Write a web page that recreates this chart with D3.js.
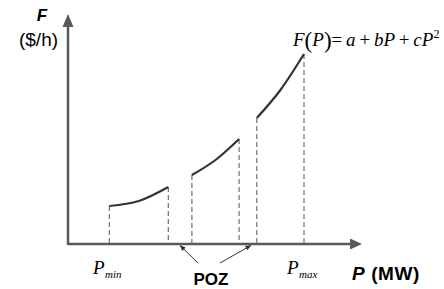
<!DOCTYPE html>
<html><head><meta charset="utf-8">
<script src="https://cdn.jsdelivr.net/npm/d3@7"></script>
<style>body{margin:0;background:#fff}svg{display:block}</style>
</head><body>
<script>
// Data: power output P (MW) and cost F ($/h) along each allowed operating segment
const segP1 = [14, 24, 34];
const segF1 = [19, 21.5, 28.5];
const segP2 = [42, 50, 58];
const segF2 = [34.5, 42, 52.5];
const segP3 = [64, 72, 80];
const segF3 = [63, 77, 95];
const pozArrowTargets = [38, 64]; // MW positions POZ arrows point to
const xAxisMax = 100;
const yAxisMax = 115;

const W = 444, H = 289;
const svg = d3.select("body").append("svg").attr("width", W).attr("height", H);

const x = d3.scaleLinear().domain([0, 100]).range([68, 363]);
const y = d3.scaleLinear().domain([0, 100]).range([244, 44]);

const defs = svg.append("defs");
defs.append("marker").attr("id","ah").attr("viewBox","0 0 10 10").attr("refX",9).attr("refY",5)
  .attr("markerWidth",6).attr("markerHeight",6).attr("orient","auto")
  .append("path").attr("d","M0,1 L10,5 L0,9 Z").attr("fill","#333");

const axisColor = "#595959";
// axes
svg.append("line").attr("x1", x(0)).attr("x2", x(xAxisMax) - 8).attr("y1", y(0)).attr("y2", y(0))
  .attr("stroke", axisColor).attr("stroke-width", 2.5);
svg.append("path").attr("d", `M${x(xAxisMax)-1},${y(0)} L${x(xAxisMax)-13},${y(0)-5.5} L${x(xAxisMax)-13},${y(0)+5.5} Z`).attr("fill", axisColor);
svg.append("line").attr("x1", x(0)).attr("x2", x(0)).attr("y1", y(0)+1).attr("y2", y(yAxisMax) + 8)
  .attr("stroke", axisColor).attr("stroke-width", 2.5);
svg.append("path").attr("d", `M${x(0)},${y(yAxisMax)} L${x(0)-5.5},${y(yAxisMax)+13} L${x(0)+5.5},${y(yAxisMax)+13} Z`).attr("fill", axisColor);

const segs = [[segP1, segF1], [segP2, segF2], [segP3, segF3]];
const line = d3.line().x(d => x(d[0])).y(d => y(d[1])).curve(d3.curveNatural);

segs.forEach(([ps, fs]) => {
  const pts = ps.map((p, i) => [p, fs[i]]);
  [pts[0], pts[pts.length-1]].forEach(pt => {
    svg.append("line").attr("x1", x(pt[0])).attr("x2", x(pt[0])).attr("y1", y(pt[1])).attr("y2", y(0))
      .attr("stroke", "#666").attr("stroke-width", 1.1).attr("stroke-dasharray", "5,3");
  });
  svg.append("path").attr("d", line(pts)).attr("fill", "none").attr("stroke", "#333").attr("stroke-width", 2.2);
});

// POZ arrows
svg.append("line").attr("x1", 198).attr("y1", 263).attr("x2", x(pozArrowTargets[0])).attr("y2", y(0)+1.5)
  .attr("stroke","#333").attr("stroke-width",1).attr("marker-end","url(#ah)");
svg.append("line").attr("x1", 220).attr("y1", 263).attr("x2", x(pozArrowTargets[1]) - 6).attr("y2", y(0)+1.5)
  .attr("stroke","#333").attr("stroke-width",1).attr("marker-end","url(#ah)");

const sans = "'Liberation Sans', Arial, sans-serif";
const serif = "'Liberation Serif', 'Times New Roman', serif";

svg.append("text").attr("x", 211).attr("y", 285).attr("text-anchor","middle")
  .attr("font-family", sans).attr("font-weight","bold").attr("font-size",17).attr("fill","#000").text("POZ");

const pmw = svg.append("text").attr("x", 352).attr("y", 280).attr("font-family", sans)
  .attr("font-weight","bold").attr("font-size",19).attr("letter-spacing",0.6).attr("fill","#000");
pmw.append("tspan").attr("font-style","italic").text("P");
pmw.append("tspan").text(" (MW)");

svg.append("text").attr("x", 42).attr("y", 21).attr("text-anchor","middle").attr("font-family", sans)
  .attr("font-weight","bold").attr("font-style","italic").attr("font-size",17).attr("fill","#000").text("F");
svg.append("text").attr("x", 38.5).attr("y", 46).attr("text-anchor","middle").attr("font-family", sans)
  .attr("font-size",19).attr("fill","#000").text("($/h)");

function subLabel(px, sub) {
  const t = svg.append("text").attr("x", px).attr("y", 274).attr("font-family", serif)
    .attr("font-style","italic").attr("font-size",19).attr("fill","#000");
  t.append("tspan").text("P");
  t.append("tspan").attr("font-size",11).attr("dy",4).attr("dx",0.5).text(sub);
}
subLabel(93, "min");
subLabel(287, "max");

// formula
const f = svg.append("text").attr("x", 293).attr("y", 46).attr("font-family", serif)
  .attr("font-size",19).attr("fill","#000");
f.append("tspan").attr("font-style","italic").text("F");
f.append("tspan").attr("font-size",23).attr("dy",1.5).text("(");
f.append("tspan").attr("font-style","italic").attr("dy",-1.5).text("P");
f.append("tspan").attr("font-size",23).attr("dy",1.5).text(")");
f.append("tspan").attr("dy",-1.5).text("=\u2009");
f.append("tspan").attr("font-style","italic").text("a");
f.append("tspan").text("\u2009+\u2009");
f.append("tspan").attr("font-style","italic").text("bP");
f.append("tspan").text("\u2009+\u2009");
f.append("tspan").attr("font-style","italic").text("cP");
f.append("tspan").attr("font-size",12).attr("dy",-8).text("2");
</script>
</body></html>
